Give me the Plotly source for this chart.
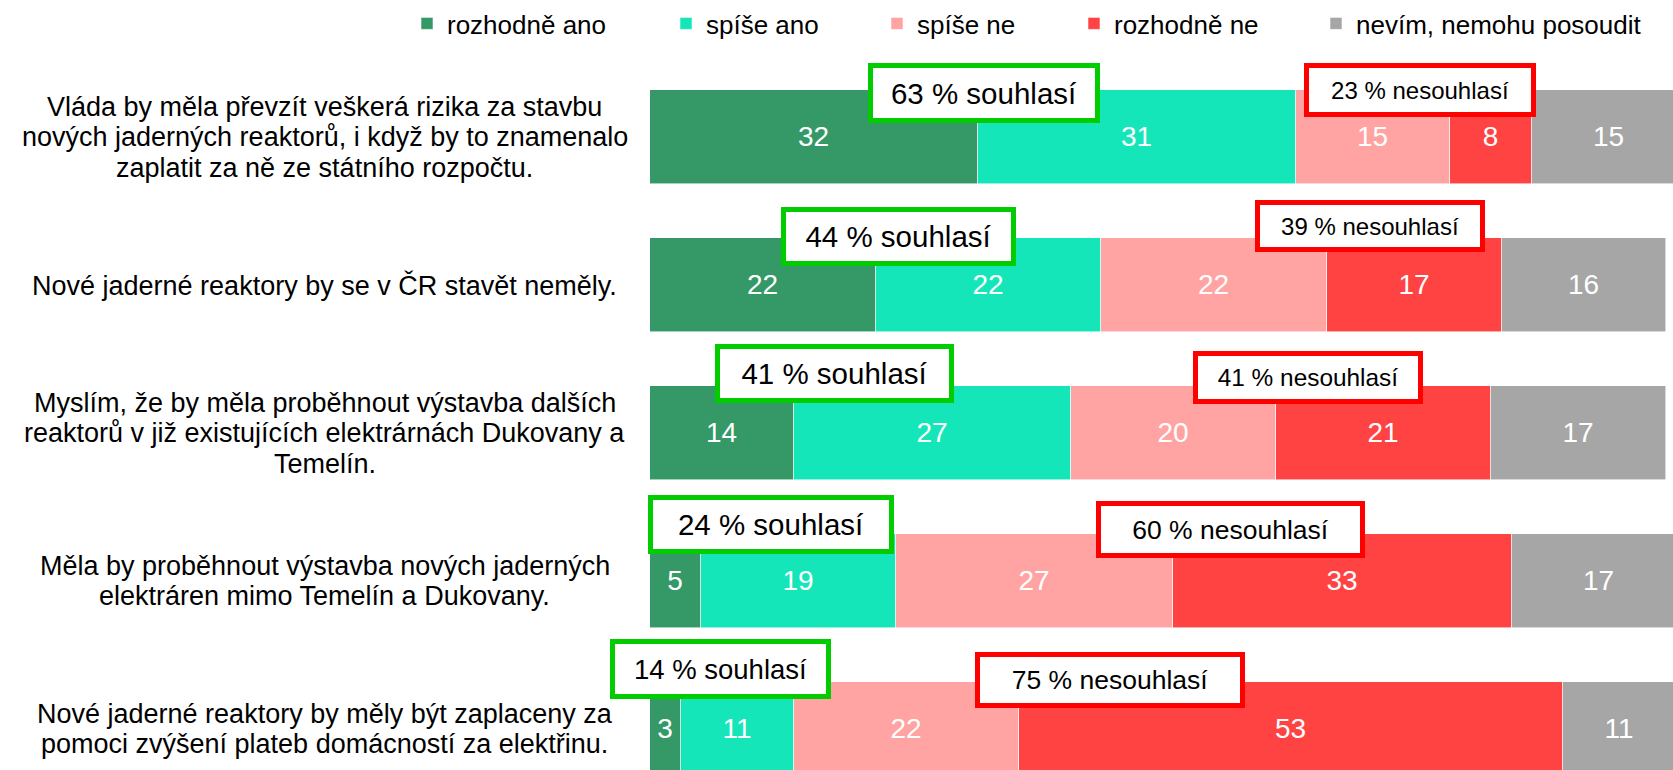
import plotly.graph_objects as go

# Survey statements (line breaks as wrapped in the category area)
questions = [
    "Vláda by měla převzít veškerá rizika za stavbu<br>nových jaderných reaktorů, i když by to znamenalo<br>zaplatit za ně ze státního rozpočtu.",
    "Nové jaderné reaktory by se v ČR stavět neměly.",
    "Myslím, že by měla proběhnout výstavba dalších<br>reaktorů v již existujících elektrárnách Dukovany a<br>Temelín.",
    "Měla by proběhnout výstavba nových jaderných<br>elektráren mimo Temelín a Dukovany.",
    "Nové jaderné reaktory by měly být zaplaceny za<br>pomoci zvýšení plateb domácností za elektřinu.",
]

series_names = ["rozhodně ano", "spíše ano", "spíše ne", "rozhodně ne", "nevím, nemohu posoudit"]

# Shares of answers in percent, one value per statement
rozhodne_ano = [32, 22, 14, 5, 3]
spise_ano = [31, 22, 27, 19, 11]
spise_ne = [15, 22, 20, 27, 22]
rozhodne_ne = [8, 17, 21, 33, 53]
nevim = [15, 16, 17, 17, 11]

series_values = [rozhodne_ano, spise_ano, spise_ne, rozhodne_ne, nevim]
series_colors = ["#349966", "#14E6B9", "#FFA3A3", "#FF4343", "#A6A6A6"]

FONT = "Liberation Sans, Arial, sans-serif"
W, H = 1673, 770
M_L, M_R, M_T, M_B = 650, 0, 60, 0
PLOT_W = W - M_L - M_R
PLOT_H = H - M_T - M_B

rows = list(range(len(questions)))

fig = go.Figure()
for k, (name, vals, col) in enumerate(zip(series_names, series_values, series_colors)):
    fig.add_trace(go.Bar(
        name=name,
        x=vals,
        y=rows,
        orientation="h",
        width=0.635,
        marker=dict(color=col, line=dict(color="rgba(255,255,255,0.7)", width=0.8)),
        text=vals,
        texttemplate="%{x}",
        textposition="inside",
        insidetextanchor="middle",
        textangle=0,
        textfont=dict(family=FONT, size=28, color="white"),
        hoverinfo="skip",
        legend="legend" if k == 0 else f"legend{k + 1}",
    ))

# Legend entries: one legend per series so each can sit at its own position
legend_text_px = [447, 706, 917, 1114, 1356]
legend_y = 1 + (M_T - 23.5) / PLOT_H
legend_layouts = {}
for k, px in enumerate(legend_text_px):
    key = "legend" if k == 0 else f"legend{k + 1}"
    legend_layouts[key] = dict(
        x=(px - 40 - M_L) / PLOT_W,
        xanchor="left",
        y=legend_y,
        yanchor="middle",
        orientation="h",
        bgcolor="rgba(0,0,0,0)",
        borderwidth=0,
        font=dict(family=FONT, size=26, color="black"),
    )

annotations = []

# Statement labels, one annotation per wrapped line
LABEL_CX = 324.5
LINE_STEP = 30.5
for i, q in enumerate(questions):
    lines = q.split("<br>")
    n = len(lines)
    for j, line in enumerate(lines):
        annotations.append(dict(
            x=(LABEL_CX - M_L) / PLOT_W, xref="paper",
            y=i, yref="y",
            xanchor="center", yanchor="middle",
            yshift=-(j - (n - 1) / 2) * LINE_STEP,
            text=line, showarrow=False,
            font=dict(family=FONT, size=27, color="black"),
        ))

# Summary boxes: agreement (green) and disagreement (red)
agree_box_x = [32.55, 24.23, 18.03, 11.79, 6.87]
agree_box_dy = [-0.297, -0.328, -0.402, -0.382, -0.405]
agree_box_w = [232, 235, 239, 246, 221]
agree_box_h = [60, 59, 59, 59, 60]
agree_font = [29.5, 29.5, 29.5, 29.5, 27.5]

disagree_box_x = [75.05, 70.18, 64.13, 56.53, 44.83]
disagree_box_dy = [-0.318, -0.399, -0.376, -0.348, -0.331]
disagree_box_w = [232, 230, 230, 269, 270]
disagree_box_h = [54, 52, 53, 57, 56]
disagree_font = [24, 24, 24.4, 26.5, 26.5]

BOX_BW = 5
for i in rows:
    agree = rozhodne_ano[i] + spise_ano[i]
    disagree = spise_ne[i] + rozhodne_ne[i]
    annotations.append(dict(
        x=agree_box_x[i], xref="x", y=i + agree_box_dy[i], yref="y",
        xanchor="center", yanchor="middle",
        text=f"{agree} % souhlasí", showarrow=False,
        width=agree_box_w[i] - 2 * BOX_BW, height=agree_box_h[i] - 2 * BOX_BW,
        align="center", valign="middle",
        bgcolor="white", bordercolor="#00CC00", borderwidth=BOX_BW, borderpad=0,
        font=dict(family=FONT, size=agree_font[i], color="black"),
    ))
    annotations.append(dict(
        x=disagree_box_x[i], xref="x", y=i + disagree_box_dy[i], yref="y",
        xanchor="center", yanchor="middle",
        text=f"{disagree} % nesouhlasí", showarrow=False,
        width=disagree_box_w[i] - 2 * BOX_BW, height=disagree_box_h[i] - 2 * BOX_BW,
        align="center", valign="middle",
        bgcolor="white", bordercolor="#FF0000", borderwidth=BOX_BW, borderpad=0,
        font=dict(family=FONT, size=disagree_font[i], color="black"),
    ))

row_px = 148.0
top_val = -(137 - M_T) / row_px
bottom_val = top_val + PLOT_H / row_px

fig.update_layout(
    width=W, height=H,
    margin=dict(l=M_L, r=M_R, t=M_T, b=M_B, pad=0),
    barmode="stack",
    bargap=0,
    plot_bgcolor="white",
    paper_bgcolor="white",
    font=dict(family=FONT, color="black"),
    xaxis=dict(range=[0, PLOT_W / 10.26], visible=False, fixedrange=True),
    yaxis=dict(range=[bottom_val, top_val], visible=False, fixedrange=True),
    uniformtext=dict(minsize=24, mode="show"),
    annotations=annotations,
    showlegend=True,
    **legend_layouts,
)

fig.write_html("out.html", config={"displayModeBar": False})
